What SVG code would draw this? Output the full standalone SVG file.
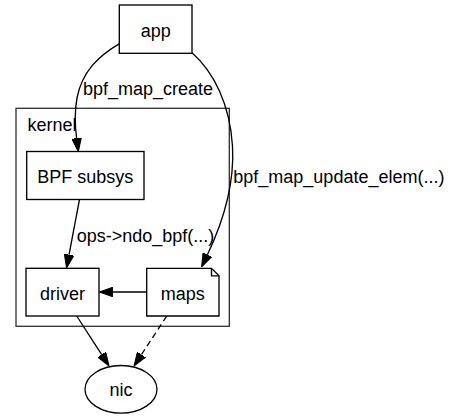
<svg xmlns="http://www.w3.org/2000/svg" width="452" height="419" viewBox="0 0 452 419">
<defs>
<style>
text{font-family:"Liberation Sans",Arial,sans-serif;font-size:18px;fill:#000}
.n{fill:#fff;stroke:#000;stroke-width:1.33}
.e{fill:none;stroke:#000;stroke-width:1.33}
.d{stroke-dasharray:6,4}
.c{text-anchor:middle}
</style>
<marker id="ah" markerUnits="userSpaceOnUse" viewBox="0 0 14 10" refX="0" refY="5" markerWidth="14" markerHeight="10" orient="auto">
<path d="M0,0.2 L13.5,5 L0,9.8 Z" fill="#000" stroke="#000" stroke-width="1"/>
</marker>
</defs>
<rect width="452" height="419" fill="#fff"/>
<g id="cluster_kernel">
<rect x="16" y="108.3" width="213.3" height="218" fill="none" stroke="#333" stroke-width="1.33"/>
<text x="27.5" y="131">kernel</text>
</g>
<g id="edges">
<path class="e" d="M120,43.3 C98,56 82,72 77,98 C74.5,112 75,126 76.6,138.2" marker-end="url(#ah)"/>
<text x="83" y="95">bpf_map_create</text>
<path class="e" d="M192,52.7 C214,72 230,105 232.5,146 C234.5,182 224,220 207.4,254.7" marker-end="url(#ah)"/>
<text x="233.3" y="183.3">bpf_map_update_elem(...)</text>
<path class="e" d="M79.5,199.3 L69.05,254.7" marker-end="url(#ah)"/>
<text x="76.7" y="241.5">ops-&gt;ndo_bpf(...)</text>
<path class="e" d="M146.7,292 L112.8,292" marker-end="url(#ah)"/>
<path class="e" d="M76.7,316 L101.7,354.6" marker-end="url(#ah)"/>
<path class="e d" d="M166.7,316 L141.4,354.7" marker-end="url(#ah)"/>
</g>
<g id="app">
<rect class="n" x="119.3" y="5" width="72.7" height="48.3"/>
<text class="c" x="155.7" y="37">app</text>
</g>
<g id="bpf_subsys">
<rect class="n" x="26.7" y="151.5" width="117.3" height="48"/>
<text class="c" x="85.3" y="183.3">BPF subsys</text>
</g>
<g id="driver">
<rect class="n" x="26" y="268.3" width="73" height="47.7"/>
<text class="c" x="62.5" y="299.5">driver</text>
</g>
<g id="maps">
<path class="n" d="M146.7,268.3 L211.5,268.3 L219,275.8 L219,316 L146.7,316 Z"/>
<path class="e" d="M211.5,268.3 L211.5,275.8 L219,275.8"/>
<text class="c" x="182.8" y="299.5">maps</text>
</g>
<g id="nic">
<ellipse class="n" cx="121" cy="389.3" rx="36" ry="23.8"/>
<text class="c" x="121" y="395.5">nic</text>
</g>
</svg>
